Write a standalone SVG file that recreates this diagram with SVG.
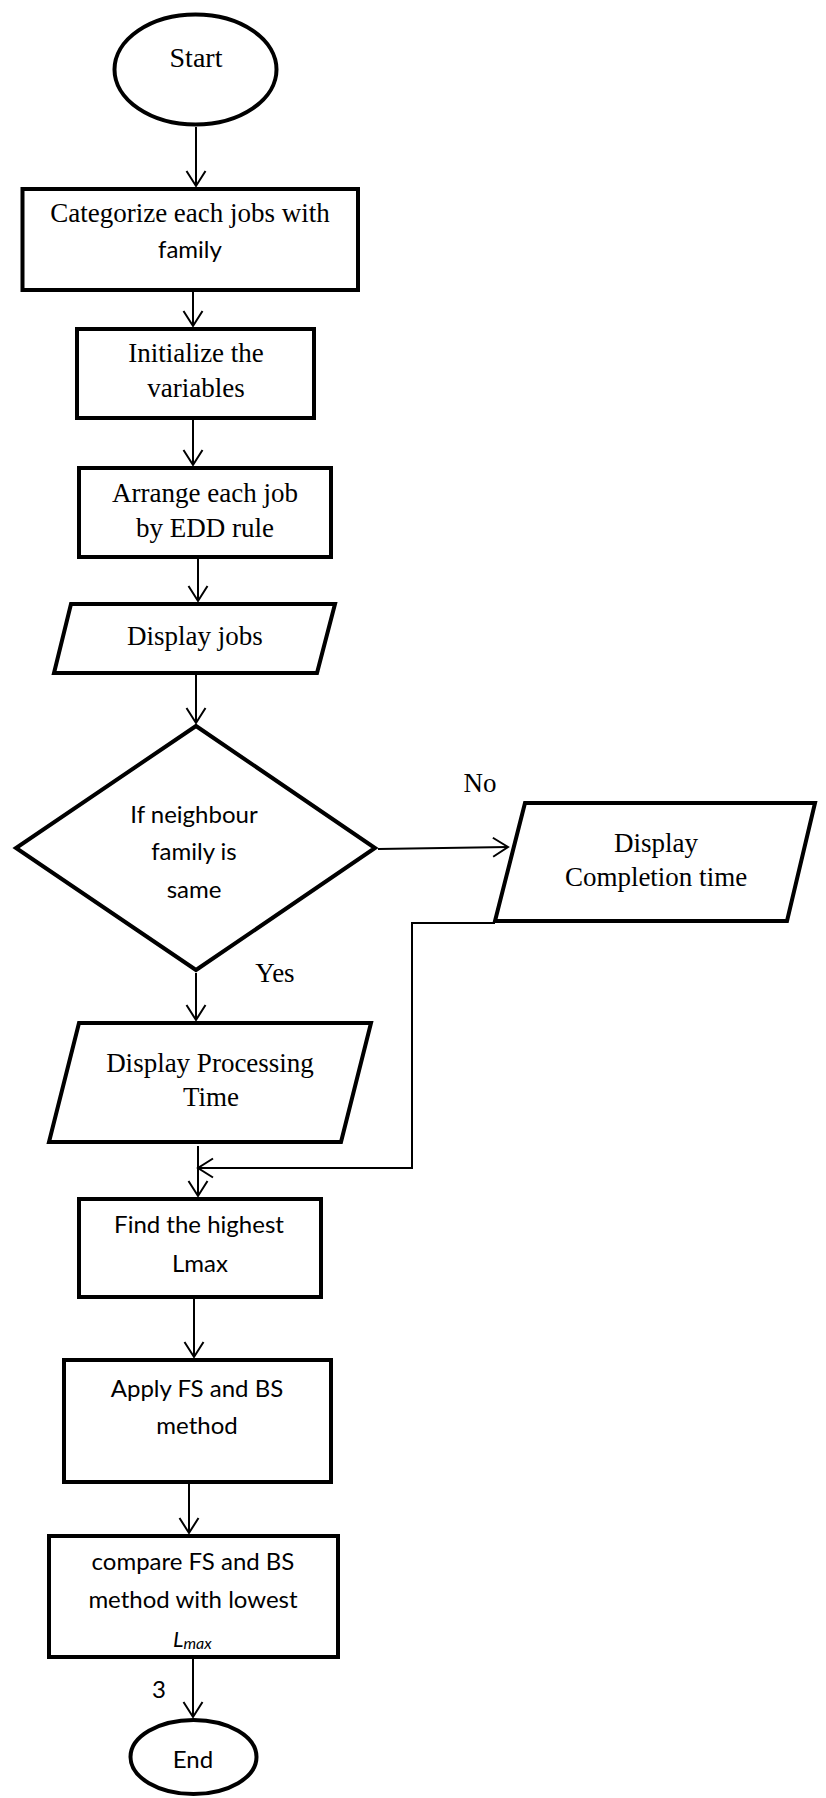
<svg xmlns="http://www.w3.org/2000/svg" width="826" height="1798" viewBox="0 0 826 1798">
<style>
.shape{fill:#fff;stroke:#000;stroke-width:4;stroke-linejoin:miter}
.conn{fill:none;stroke:#000;stroke-width:2}
.tr{font-family:"Liberation Serif","Times New Roman",serif;font-size:27px;fill:#000;text-anchor:middle}
.ca{font-family:Lato,"Open Sans",sans-serif;font-size:24px;fill:#000;text-anchor:middle}
</style>
<defs>
<marker id="arr" markerUnits="userSpaceOnUse" markerWidth="20" markerHeight="24" viewBox="-17 -12 20 24" refX="0" refY="0" orient="auto">
<path d="M-15,-9.5 L0,0 L-15,9.5" fill="none" stroke="#000" stroke-width="2"/>
</marker>
<clipPath id="clipL"><rect x="140" y="1600" width="120" height="49.5"/></clipPath>
</defs>
<rect width="826" height="1798" fill="#fff"/>

<g id="connectors">
<line class="conn" x1="196" y1="127" x2="196" y2="186" marker-end="url(#arr)"/>
<line class="conn" x1="193" y1="292" x2="193" y2="326" marker-end="url(#arr)"/>
<line class="conn" x1="193" y1="420" x2="193" y2="465" marker-end="url(#arr)"/>
<line class="conn" x1="198" y1="559" x2="198" y2="601" marker-end="url(#arr)"/>
<line class="conn" x1="196" y1="675" x2="196" y2="723" marker-end="url(#arr)"/>
<line class="conn" x1="378" y1="849" x2="508" y2="847" marker-end="url(#arr)"/>
<line class="conn" x1="196" y1="973" x2="196" y2="1020" marker-end="url(#arr)"/>
<line class="conn" x1="198" y1="1146" x2="198" y2="1196" marker-end="url(#arr)"/>
<polyline class="conn" points="495,923 412,923 412,1168 198,1168" marker-end="url(#arr)"/>
<line class="conn" x1="194" y1="1299" x2="194" y2="1357" marker-end="url(#arr)"/>
<line class="conn" x1="189" y1="1484" x2="189" y2="1533" marker-end="url(#arr)"/>
<line class="conn" x1="193" y1="1659" x2="193" y2="1717" marker-end="url(#arr)"/>
<text class="tr" x="480" y="792">No</text>
<text class="tr" x="275" y="982">Yes</text>
<text class="ca" x="159" y="1698">3</text>
</g>

<g id="start">
<ellipse class="shape" cx="195.5" cy="69.5" rx="81" ry="55"/>
<text class="tr" x="196" y="67" style="font-size:28px">Start</text>
</g>

<g id="categorize">
<rect class="shape" x="22.5" y="189" width="335.5" height="101"/>
<text class="tr" x="190" y="222">Categorize each jobs with</text>
<text class="ca" x="190" y="258">family</text>
</g>

<g id="initialize">
<rect class="shape" x="77" y="329" width="237" height="89"/>
<text class="tr" x="196" y="362">Initialize the</text>
<text class="tr" x="196" y="397">variables</text>
</g>

<g id="arrange">
<rect class="shape" x="79" y="468" width="252" height="89"/>
<text class="tr" x="205" y="502">Arrange each job</text>
<text class="tr" x="205" y="537">by EDD rule</text>
</g>

<g id="display-jobs">
<polygon class="shape" points="71,604 335,604 317,673 54,673"/>
<text class="tr" x="195" y="645">Display jobs</text>
</g>

<g id="decision">
<polygon class="shape" points="196,726 375,848 196,970 16,848"/>
<text class="ca" x="194" y="823">If neighbour</text>
<text class="ca" x="194" y="860">family is</text>
<text class="ca" x="194" y="898">same</text>
</g>

<g id="display-completion">
<polygon class="shape" points="525,803 815,803 787,921 495,921"/>
<text class="tr" x="656" y="852">Display</text>
<text class="tr" x="656" y="886">Completion time</text>
</g>

<g id="display-processing">
<polygon class="shape" points="79,1023 371,1023 341,1142 49,1142"/>
<text class="tr" x="210" y="1072">Display Processing</text>
<text class="tr" x="211" y="1106">Time</text>
</g>

<g id="find-highest">
<rect class="shape" x="79" y="1199" width="242" height="98"/>
<text class="ca" x="199" y="1233">Find the highest</text>
<text class="ca" x="200" y="1272">Lmax</text>
</g>

<g id="apply">
<rect class="shape" x="64" y="1360" width="267" height="122"/>
<text class="ca" x="197" y="1397">Apply FS and BS</text>
<text class="ca" x="197" y="1434">method</text>
</g>

<g id="compare">
<rect class="shape" x="49" y="1536" width="289" height="121"/>
<text class="ca" x="193" y="1570">compare FS and BS</text>
<text class="ca" x="193" y="1608">method with lowest</text>
<text x="173" y="1647" clip-path="url(#clipL)" style="font-family:Lato,'Open Sans',sans-serif;font-style:italic;font-size:22px;fill:#000">L<tspan font-size="16" dy="2">max</tspan></text>
</g>

<g id="end">
<ellipse class="shape" cx="193.5" cy="1757" rx="63" ry="37"/>
<text class="ca" x="193" y="1768">End</text>
</g>
</svg>
